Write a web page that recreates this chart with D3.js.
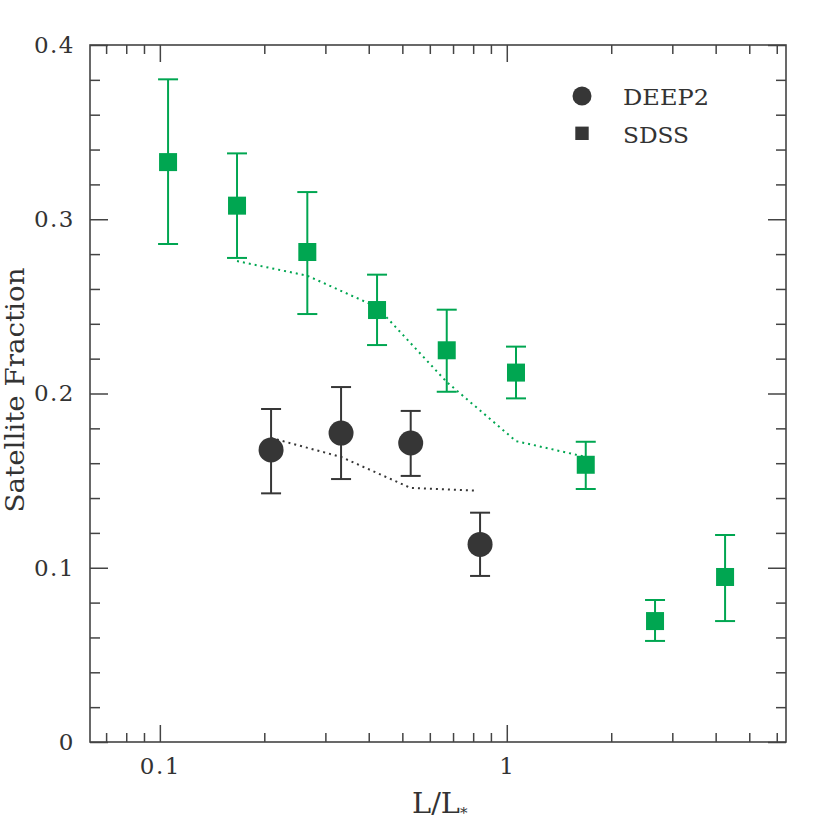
<!DOCTYPE html>
<html><head><meta charset="utf-8">
<script src="https://cdn.jsdelivr.net/npm/d3@7/dist/d3.min.js"></script>
<style>body{margin:0;background:#fff}svg{display:block}</style>
</head><body>
<svg id="c" width="830" height="830"></svg>
<script>
// Data
const sdssX  = [0.1056, 0.1669, 0.2661, 0.4227, 0.6713, 1.063, 1.689, 2.675, 4.258];
const sdssY  = [0.3328, 0.3078, 0.2812, 0.2479, 0.2248, 0.2120, 0.1591, 0.0694, 0.0947];
const sdssHi = [0.3803, 0.3378, 0.3156, 0.2682, 0.2481, 0.2269, 0.1723, 0.0815, 0.1188];
const sdssLo = [0.2858, 0.2778, 0.2456, 0.2278, 0.2010, 0.1972, 0.1452, 0.0580, 0.0694];
const deepX  = [0.2092, 0.3329, 0.5285, 0.8375];
const deepY  = [0.1676, 0.1773, 0.1716, 0.1134];
const deepHi = [0.1911, 0.2037, 0.1900, 0.1316];
const deepLo = [0.1427, 0.1509, 0.1527, 0.0953];
const sdssModelX = [0.1669, 0.2661, 0.4227, 0.6713, 1.063, 1.689];
const sdssModelY = [0.2760, 0.2676, 0.2496, 0.2066, 0.1727, 0.1636];
const deepModelX = [0.2092, 0.3329, 0.5285, 0.8200];
const deepModelY = [0.1745, 0.1636, 0.1458, 0.1442];
const xMajor = [0.1, 1];
const xMajorLabels = ["0.1", "1"];
const xMinor = [0.07, 0.08, 0.09, 0.2, 0.3, 0.4, 0.5, 0.6, 0.7, 0.8, 0.9, 2, 3, 4, 5, 6];
const yMajor = [0, 0.1, 0.2, 0.3, 0.4];
const yMajorLabels = ["0", "0.1", "0.2", "0.3", "0.4"];
const yMinor = [0.02,0.04,0.06,0.08,0.12,0.14,0.16,0.18,0.22,0.24,0.26,0.28,0.32,0.34,0.36,0.38];
const legendNames = ["DEEP2", "SDSS"];

const GREEN = "#00a651", DARK = "#363636", AX = "#444";
const FONT = "'DejaVu Serif', serif";
const L = 90, R = 786, T = 45, B = 742;

const svg = d3.select("#c");
const x = d3.scaleLog().domain([0.0629, 6.38]).range([L, R]);
const y = d3.scaleLinear().domain([0, 0.4]).range([B, T]);

function styleAxis(g){
  g.selectAll("path.domain").remove();
  g.selectAll("line").attr("stroke", AX).attr("stroke-width", 1.5);
  g.selectAll("text").attr("fill", "#333").style("font-family", FONT).style("font-size", "23px").style("letter-spacing","1.5px");
}
// bottom
svg.append("g").attr("transform",`translate(0,${B})`)
  .call(d3.axisBottom(x).tickValues(xMajor).tickFormat((d,i)=>xMajorLabels[i]).tickSizeInner(-17).tickSizeOuter(0).tickPadding(16))
  .call(styleAxis);
svg.append("g").attr("transform",`translate(0,${B})`)
  .call(d3.axisBottom(x).tickValues(xMinor).tickFormat("").tickSizeInner(-9).tickSizeOuter(0))
  .call(styleAxis);
// top
svg.append("g").attr("transform",`translate(0,${T})`)
  .call(d3.axisTop(x).tickValues(xMajor).tickFormat("").tickSizeInner(-17).tickSizeOuter(0))
  .call(styleAxis);
svg.append("g").attr("transform",`translate(0,${T})`)
  .call(d3.axisTop(x).tickValues(xMinor).tickFormat("").tickSizeInner(-9).tickSizeOuter(0))
  .call(styleAxis);
// left
svg.append("g").attr("transform",`translate(${L},0)`)
  .call(d3.axisLeft(y).tickValues(yMajor).tickFormat((d,i)=>yMajorLabels[i]).tickSizeInner(-18).tickSizeOuter(0).tickPadding(15))
  .call(styleAxis);
svg.append("g").attr("transform",`translate(${L},0)`)
  .call(d3.axisLeft(y).tickValues(yMinor).tickFormat("").tickSizeInner(-10).tickSizeOuter(0))
  .call(styleAxis);
// right
svg.append("g").attr("transform",`translate(${R},0)`)
  .call(d3.axisRight(y).tickValues(yMajor).tickFormat("").tickSizeInner(-18).tickSizeOuter(0))
  .call(styleAxis);
svg.append("g").attr("transform",`translate(${R},0)`)
  .call(d3.axisRight(y).tickValues(yMinor).tickFormat("").tickSizeInner(-10).tickSizeOuter(0))
  .call(styleAxis);
// frame
svg.append("rect").attr("x",L).attr("y",T).attr("width",R-L).attr("height",B-T)
  .attr("fill","none").attr("stroke",AX).attr("stroke-width",1.6);

// model lines
const line = d3.line().x(d=>x(d[0])).y(d=>y(d[1]));
svg.append("path").datum(sdssModelX.map((v,i)=>[v,sdssModelY[i]]))
  .attr("d", line).attr("fill","none").attr("stroke",GREEN).attr("stroke-width",2).attr("stroke-dasharray","2,4");
svg.append("path").datum(deepModelX.map((v,i)=>[v,deepModelY[i]]))
  .attr("d", line).attr("fill","none").attr("stroke",DARK).attr("stroke-width",2).attr("stroke-dasharray","2,4");

function errorBars(xs, ys, lo, hi, color, cap){
  const g = svg.append("g").attr("stroke", color).attr("stroke-width", 2);
  xs.forEach((v,i)=>{
    const cx = x(v);
    g.append("line").attr("x1",cx).attr("x2",cx).attr("y1",y(lo[i])).attr("y2",y(hi[i]));
    g.append("line").attr("x1",cx-cap).attr("x2",cx+cap).attr("y1",y(lo[i])).attr("y2",y(lo[i]));
    g.append("line").attr("x1",cx-cap).attr("x2",cx+cap).attr("y1",y(hi[i])).attr("y2",y(hi[i]));
  });
}
errorBars(sdssX, sdssY, sdssLo, sdssHi, GREEN, 10);
errorBars(deepX, deepY, deepLo, deepHi, DARK, 10);

const S = 18;
svg.append("g").selectAll("rect").data(sdssX).join("rect")
  .attr("x",(d)=>x(d)-S/2).attr("y",(d,i)=>y(sdssY[i])-S/2).attr("width",S).attr("height",S)
  .attr("fill",GREEN);
svg.append("g").selectAll("circle").data(deepX).join("circle")
  .attr("cx",d=>x(d)).attr("cy",(d,i)=>y(deepY[i])).attr("r",12.5).attr("fill",DARK);

// legend
svg.append("circle").attr("cx",582).attr("cy",96).attr("r",9.5).attr("fill",DARK);
svg.append("rect").attr("x",582-6.7).attr("y",133.3-6.7).attr("width",13.4).attr("height",13.4).attr("fill",DARK);
svg.append("text").attr("x",623).attr("y",105).text(legendNames[0])
  .attr("fill","#333").style("font-family",FONT).style("font-size","23px").attr("textLength",86).attr("lengthAdjust","spacingAndGlyphs");
svg.append("text").attr("x",623).attr("y",143).text(legendNames[1])
  .attr("fill","#333").style("font-family",FONT).style("font-size","23px").attr("textLength",66).attr("lengthAdjust","spacingAndGlyphs");

// axis titles
const xt = svg.append("text").attr("x",412).attr("y",813).attr("fill","#333")
  .style("font-family",FONT).style("font-size","28px");
xt.append("tspan").text("L/L").attr("textLength",48).attr("lengthAdjust","spacingAndGlyphs");
xt.append("tspan").text("*").attr("dy",5).style("font-size","15px");

svg.append("text").attr("transform","translate(24,390) rotate(-90)").attr("text-anchor","middle")
  .attr("fill","#333").style("font-family",FONT).style("font-size","26px")
  .attr("textLength",245).attr("lengthAdjust","spacingAndGlyphs").text("Satellite Fraction");
</script>
</body></html>
